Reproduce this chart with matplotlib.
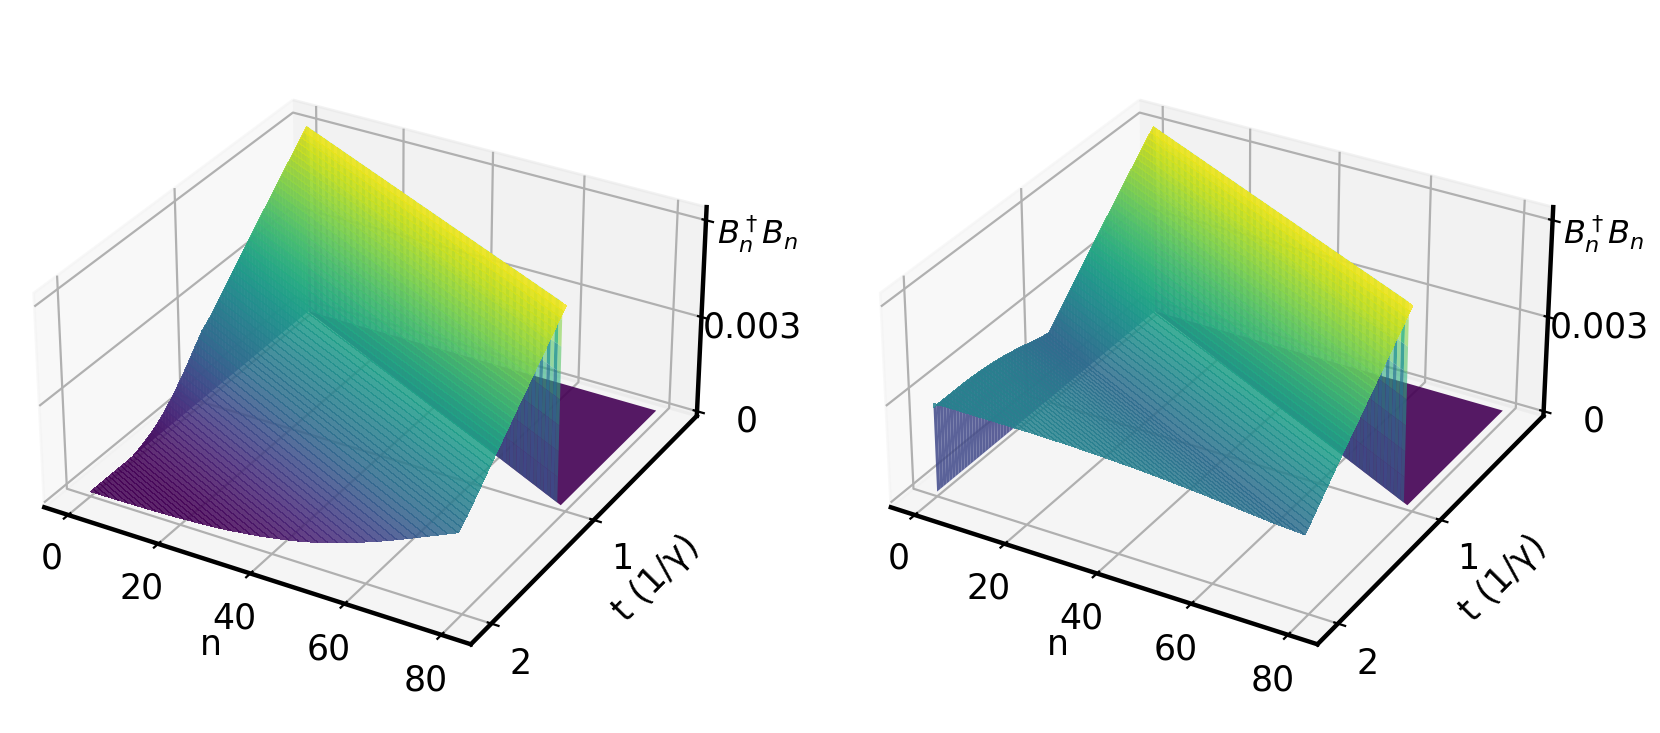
import numpy as np
import matplotlib
matplotlib.use("Agg")
import matplotlib.pyplot as plt

# delay after the wavefront, and the profile behind it
tau = np.linspace(0, 2, 77)
profile_left = np.array([6.10, 6.00, 5.90, 5.80, 5.70, 5.60, 5.50, 5.40, 5.30, 5.20,
                         5.10, 5.00, 4.90, 4.79, 4.69, 4.59, 4.49, 4.39, 4.29, 4.18,
                         4.08, 3.98, 3.88, 3.77, 3.67, 3.57, 3.46, 3.36, 3.25, 3.15,
                         3.04, 2.94, 2.83, 2.73, 2.62, 2.52, 2.44, 2.36, 2.28,
                         2.15, 2.02, 1.89, 1.76, 1.63, 1.50, 1.38, 1.26, 1.15, 1.04,
                         0.94, 0.84, 0.75, 0.66, 0.58, 0.51, 0.45, 0.39, 0.34, 0.29,
                         0.25, 0.21, 0.17, 0.14, 0.115, 0.095, 0.08, 0.065, 0.05, 0.04,
                         0.03, 0.022, 0.016, 0.011, 0.007, 0.004, 0.002, 0.00]) * 1e-3
profile_right = np.array([6.10, 6.00, 5.90, 5.80, 5.70, 5.60, 5.50, 5.40, 5.30, 5.20,
                          5.10, 5.00, 4.90, 4.79, 4.69, 4.59, 4.49, 4.39, 4.29, 4.18,
                          4.08, 3.98, 3.88, 3.77, 3.67, 3.57, 3.46, 3.36, 3.25, 3.15,
                          3.04, 2.94, 2.83, 2.73, 2.62, 2.51, 2.40, 2.31, 2.22,
                          2.24, 2.26, 2.28, 2.31, 2.34, 2.37, 2.40, 2.43, 2.46, 2.49,
                          2.515, 2.54, 2.565, 2.59, 2.61, 2.63, 2.65, 2.665, 2.68, 2.695,
                          2.71, 2.72, 2.73, 2.74, 2.745, 2.75, 2.755, 2.76, 2.76, 2.76,
                          2.76, 2.76, 2.76, 2.76, 2.76, 2.76, 2.76, 2.75]) * 1e-3

n_max = 79
t_max = 2.0
front_at_nmax = 1.0   # time the wavefront reaches the last site
first_site_drop = 0.00013   # first site sits a little lower than the rest
wall_levels = np.array([0, 0.8, 1.6, 2.4, 3.2, 4.0, 4.8, 5.6, 6.13]) * 1e-3
stripe_colors = np.array([1.5, 1.6, 1.8, 2.1, 2.6, 3.2, 4.0, 4.8]) * 1e-3
gap_colors = np.array([2.0, 2.2, 2.6, 3.2, 3.9, 4.5, 5.0, 5.4]) * 1e-3

n_ticks = [0, 20, 40, 60, 80]
t_ticks = [1, 2]
z_ticks = [0, 0.003, 0.006]
z_ticklabels = ["0", "0.003", r"$B_n^\dagger B_n$"]

plt.rcParams["font.size"] = 12.5
speed = front_at_nmax / n_max
vmax = 0.0061
alpha = 0.85
viridis = plt.get_cmap("viridis")


def draw_panel(ax, profile):
    ax.computed_zorder = False
    first_col = np.maximum(profile - first_site_drop, 0)

    # empty sites ahead of the front
    floor_x = np.array([[0, n_max], [0, n_max]], dtype=float)
    floor_y = np.array([[0, 0], [0, front_at_nmax]], dtype=float)
    ax.plot_surface(floor_x, floor_y, np.zeros((2, 2)), cmap="viridis", vmin=0, vmax=vmax,
                    rstride=1, cstride=1, linewidth=0, edgecolor="none", alpha=0.9, zorder=1)

    # the step at the front: dark strips with paler ones between
    for n in range(0, n_max - 1, 2):
        sx = np.array([[n, n + 1, n + 2]] * len(wall_levels), dtype=float)
        sy = sx * speed
        sz = np.column_stack([wall_levels, wall_levels, wall_levels])
        sz[-1] -= first_site_drop * (1 - sx[-1] / n_max)
        colors = np.empty((len(wall_levels) - 1, 2, 4))
        colors[:, 0] = viridis(stripe_colors / vmax)
        colors[:, 1] = viridis(gap_colors / vmax)
        colors[:, 0, 3] = alpha
        colors[:, 1, 3] = 0.6
        ax.plot_surface(sx, sy, sz, facecolors=colors, rstride=1, cstride=1, shade=False,
                        linewidth=0, edgecolor="none", zorder=2)

    # the step at n = 0
    wx = np.zeros((2, len(tau)))
    wy = np.vstack([tau, tau])
    wz = np.vstack([np.zeros(len(tau)), first_col])
    ax.plot_surface(wx, wy, wz, cmap="viridis", vmin=0, vmax=vmax, rstride=1, cstride=1,
                    linewidth=0, edgecolor="none", alpha=alpha, zorder=2)

    # the sheet behind the front
    n_end = np.minimum(n_max, (t_max - tau) / speed)
    X = np.column_stack([np.zeros(len(tau)), n_end])
    Y = X * speed + tau[:, None]
    Z = np.column_stack([first_col, profile])
    ax.plot_surface(X, Y, Z, cmap="viridis", vmin=0, vmax=vmax, rstride=1, cstride=1,
                    linewidth=0, edgecolor="none", antialiased=False, alpha=alpha, zorder=3)

    ax.set_box_aspect((4, 4, 2.014), zoom=0.964)
    ax.set_xlim(-5.4, 86)
    ax.set_ylim(2.19, -0.094)
    ax.set_zlim(-0.00015, 0.0064)
    ax.set_xticks(n_ticks)
    ax.set_yticks(t_ticks)
    ax.set_zticks(z_ticks)
    ax.set_zticklabels(z_ticklabels)
    ax.get_zticklabels()[2].set_fontsize(11.5)
    ax.xaxis.set_rotate_label(False)
    ax.set_xlabel("n", labelpad=0.5, rotation=0)
    ax.set_ylabel("t (1/γ)", labelpad=0.5)
    ax.tick_params(axis="x", pad=0.5)
    ax.tick_params(axis="y", pad=1)
    ax.tick_params(axis="z", pad=3)
    for axis in (ax.xaxis, ax.yaxis, ax.zaxis):
        axis.line.set_linewidth(1.6)


fig = plt.figure(figsize=(8.3, 3.665), dpi=200)
ax1 = fig.add_axes([-0.009, 0.0, 0.46, 1.0], projection="3d")
ax2 = fig.add_axes([0.501, 0.0, 0.46, 1.0], projection="3d")
draw_panel(ax1, profile_left)
draw_panel(ax2, profile_right)

fig.savefig("out.png", dpi=200)
